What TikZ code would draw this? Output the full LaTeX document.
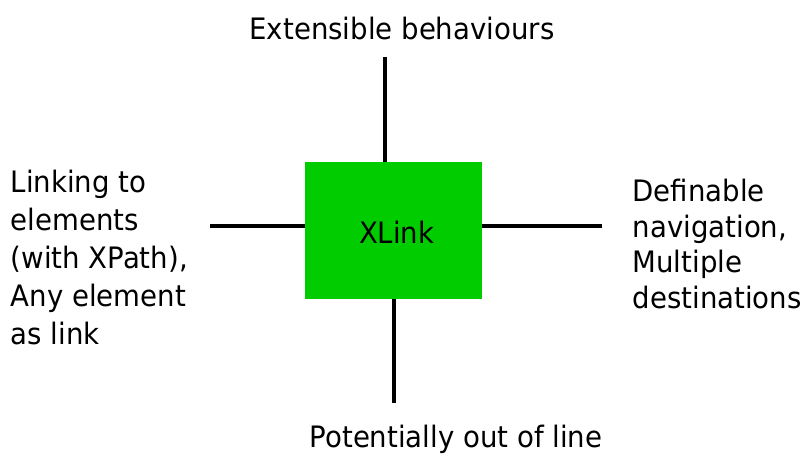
\documentclass[tikz,border=0pt]{standalone}
\usepackage{fontspec}
\setmainfont[FakeStretch=0.935]{DejaVu Sans}
\definecolor{boxgreen}{RGB}{0,204,0}
\begin{document}
\begin{tikzpicture}[x=1pt,y=1pt,
  lbl/.style={inner sep=0pt,font=\fontsize{29.5}{36.5}\selectfont},
  core/.style={fill=boxgreen,draw=none,inner sep=0pt,minimum width=177pt,minimum height=136.7pt},
  spoke/.style={line width=4.5pt,black}]
\useasboundingbox (0,0) rectangle (808,453);
% central box
\node[core] (xl) at (393.5,222.65) {};
\node[lbl,anchor=base] (xltext) at (396.7,210) {XLink};
% free ends of the spokes
\coordinate (ntop) at (385,396);
\coordinate (nbot) at (394,50.3);
\coordinate (nleft) at (210,227);
\coordinate (nright) at (602,227);
\draw[spoke] (ntop) -- (ntop |- xl.north);
\draw[spoke] (nbot) -- (nbot |- xl.south);
\draw[spoke] (nleft) -- (nleft -| xl.west);
\draw[spoke] (nright) -- (nright -| xl.east);
% labels (base anchor of a multi-line node sits on its last line)
\node[lbl,anchor=base] (ltop) at (402,413.7) {Extensible behaviours};
\node[lbl,anchor=base] (lbot) at (456,6) {Potentially out of line};
\node[lbl,anchor=base west,align=left,font=\fontsize{29.5}{37.9}\selectfont] (lleft) at (10.5,109)
  {Linking to\\elements\\(with XPath),\\Any element\\as link};
\node[lbl,anchor=base west,align=left,font=\fontsize{29.5}{35.4}\selectfont] (lright) at (632.5,145)
  {Definable\\navigation,\\Multiple\\destinations};
\end{tikzpicture}
\end{document}
